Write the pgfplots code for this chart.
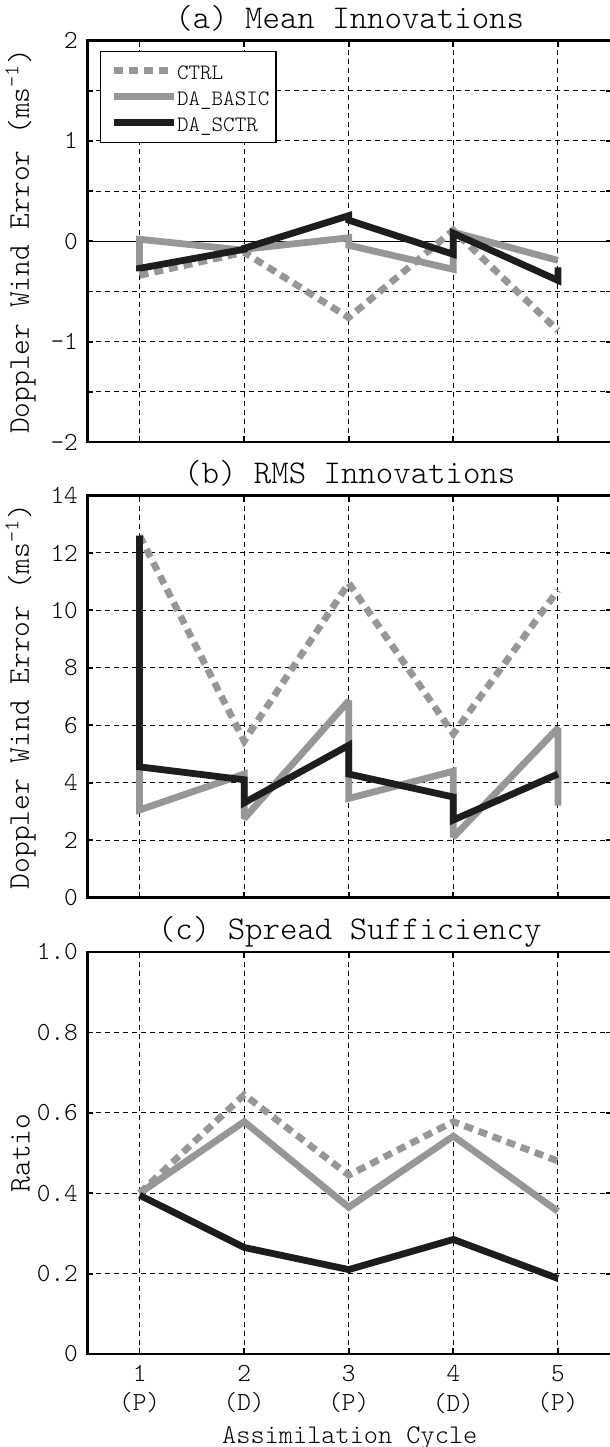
\documentclass[border=0pt]{standalone}
\usepackage{fontspec}
\setmonofont{lmmonolt10-regular.otf}
\usepackage{pgfplots}
\pgfplotsset{compat=1.18}
\definecolor{cgray}{RGB}{151,151,153}
\definecolor{cblack}{RGB}{30,28,28}
\newcommand\tickfont{\fontsize{13}{14.8}\selectfont\ttfamily}
\newcommand\titlefont{\fontsize{16.6}{19}\selectfont\ttfamily}
\newcommand\labfont{\fontsize{15}{17}\selectfont\ttfamily}
\newcommand\legfont{\fontsize{11}{13}\selectfont\ttfamily}
\pgfplotsset{
  panel/.style={
    width=262.5pt, height=201pt, scale only axis,
    xmin=0.5, xmax=5.52,
    xtick={1,2,3,4,5},
    tick pos=both, tick align=inside,
    major tick length=3pt,
    every tick/.style={black, line width=0.9pt},
    grid=major,
    major grid style={black, line width=0.45pt, dash pattern=on 2.5pt off 2pt},
    axis line style={line width=1.4pt, black},
    xticklabel style={font=\tickfont},
    yticklabel style={font=\tickfont, inner sep=0pt, xshift=-4.5pt},
    every axis title/.style={font=\titlefont, at={(0.5,1)}, anchor=base, yshift=6.25pt},
    every axis y label/.style={font=\labfont, at={(axis description cs:-0.1272,0.5)}, anchor=center, rotate=90},
    legend image code/.code={\draw[##1] (0pt,0pt) -- (29.7pt,0pt);},
  },
  ctrl/.style={cgray, line width=3.4pt, dash pattern=on 4.5pt off 3pt},
  basic/.style={cgray, line width=3.4pt, miter limit=2},
  sctr/.style={cblack, line width=3.4pt, miter limit=2},
}
\newcommand\legentry[1]{\makebox[44.5pt][l]{\rule{0pt}{11.1pt}#1}}
\begin{document}
\begin{tikzpicture}
\path[use as bounding box, clip] (0pt,0pt) rectangle (305pt,-723.5pt);
% (a)
\begin{axis}[panel, at={(43.65pt,-221pt)}, anchor=south west, height=200.75pt,
  ymin=-2, ymax=2,
  ytick={-2,-1.5,-1,-0.5,0,0.5,1,1.5,2},
  yticklabels={-2,,-1,,0,,1,,2},
  xticklabels={},
  extra y ticks={0}, extra y tick labels={},
  extra y tick style={grid=major, major grid style={solid, black, line width=0.6pt}},
  title={(a) Mean Innovations},
  ylabel={Doppler Wind Error (ms\textsuperscript{-1})},
  legend cell align=left,
  legend style={at={(0.0246,0.975)}, anchor=north west, draw=black, line width=0.6pt, fill=white,
    inner xsep=5pt, inner ysep=3.25pt, row sep=0pt,
    font=\legfont,
    nodes={inner sep=0pt, text depth=1.9pt},
    /tikz/every even column/.append style={column sep=6pt}},
]
\addplot[ctrl] coordinates {(1,-0.34) (2,-0.11) (3,-0.76) (4,0.11) (5,-0.89)};
\addlegendentry{\legentry{CTRL}}
\addplot[basic] coordinates {(1,-0.29) (1,0.02) (2,-0.09) (2,-0.08) (3,0.035) (3,-0.04) (4,-0.28) (4,0.09) (5,-0.19)};
\addlegendentry{\legentry{DA\_BASIC}}
\addplot[sctr] coordinates {(1,-0.30) (1,-0.27) (2,-0.08) (2,-0.07) (3,0.255) (3,0.21) (4,-0.13) (4,0.08) (5,-0.39) (5,-0.26)};
\addlegendentry{\legentry{DA\_SCTR}}
\end{axis}
% (b)
\begin{axis}[panel, at={(43.65pt,-448.75pt)}, anchor=south west,
  ymin=0, ymax=14, ytick={0,2,4,6,8,10,12,14},
  yticklabels={0,2,4,6,8,10,12,14},
  xticklabels={},
  title={(b) RMS Innovations},
  ylabel={Doppler Wind Error (ms\textsuperscript{-1})},
]
\addplot[ctrl] coordinates {(1,12.6) (2,5.45) (3,10.95) (4,5.7) (5,10.7)};
\addplot[basic] coordinates {(1,4.45) (1,3.05) (2,4.3) (2,2.75) (3,6.85) (3,3.45) (4,4.4) (4,2.1) (5,5.9) (5,3.2)};
\addplot[sctr] coordinates {(1,12.6) (1,4.55) (2,4.1) (2,3.3) (3,5.3) (3,4.3) (4,3.5) (4,2.7) (5,4.3)};
\end{axis}
% (c)
\begin{axis}[panel, at={(43.65pt,-677pt)}, anchor=south west,
  ymin=0, ymax=1, ytick={0,0.2,0.4,0.6,0.8,1},
  yticklabels={0,0.2,0.4,0.6,0.8,1.0},
  xticklabels={{1\\(P)},{2\\(D)},{3\\(P)},{4\\(D)},{5\\(P)}},
  xticklabel style={align=center, inner sep=0pt, anchor=north, yshift=-5.4pt},
  title={(c) Spread Sufficiency},
  ylabel={Ratio},
  xlabel={Assimilation Cycle},
  every axis x label/.style={at={(axis description cs:0.5,0)}, anchor=base, yshift=-44.5pt, font=\fontsize{13.5}{15}\selectfont\ttfamily},
]
\addplot[ctrl] coordinates {(1,0.40) (2,0.645) (3,0.445) (4,0.578) (5,0.48)};
\addplot[basic] coordinates {(1,0.40) (2,0.578) (3,0.365) (4,0.542) (5,0.355)};
\addplot[sctr] coordinates {(1,0.395) (2,0.265) (3,0.21) (4,0.285) (5,0.188)};
\end{axis}
\end{tikzpicture}
\end{document}
